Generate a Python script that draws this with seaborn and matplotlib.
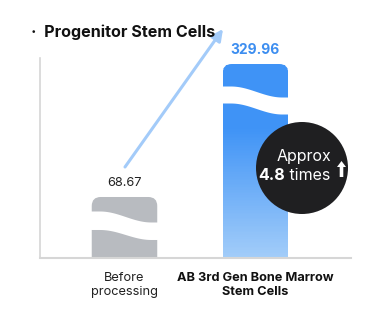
import numpy as np
import pandas as pd
import seaborn as sns
import matplotlib
matplotlib.use("Agg")
import matplotlib.pyplot as plt
from matplotlib.path import Path
from matplotlib.patches import PathPatch, Circle, FancyArrow, Polygon
from matplotlib.collections import PolyCollection
from matplotlib.transforms import IdentityTransform

# ---- data ----
categories = ["Before\nprocessing", "AB 3rd Gen Bone Marrow\nStem Cells"]
values = [68.67, 329.96]
value_labels = ["68.67", "329.96"]
title = "\u00b7  Progenitor Stem Cells"
badge_line1 = "Approx"
badge_num = "4.8"
badge_rest = " times"

sns.set_theme(style="white")
plt.rcParams['font.family'] = ['Inter', 'DejaVu Sans']

W, H = 391, 322
fig = plt.figure(figsize=(W / 100, H / 100), dpi=100)
fig.patch.set_facecolor("white")
ax = fig.add_axes([40 / W, (H - 258) / H, 311 / W, 200 / H])

df = pd.DataFrame({"cat": categories, "val": values})
sns.barplot(data=df, x="cat", y="val", ax=ax, width=0.5,
            color="#b8bbc0", saturation=1)

p = 0.737
ax.set_yscale("function", functions=(lambda v: np.sign(v) * np.abs(v) ** p,
                                     lambda u: np.sign(u) * np.abs(u) ** (1 / p)))
ax.set_ylim(0, 343.9)
ax.set_xlim(-0.645, 1.729)
ax.set_ylabel("")
ax.set_xlabel("")
ax.set_yticks([])
ax.set_xticks([0, 1])
ax.set_xticklabels(categories, fontsize=9.2, color="#222222", linespacing=1.25)
ax.get_xticklabels()[1].set_fontweight("bold")
ax.get_xticklabels()[1].set_color("#111111")
ax.tick_params(axis="x", length=0, pad=10)
for s in ["top", "right"]:
    ax.spines[s].set_visible(False)
ax.spines["left"].set_color("#d6d6d6")
ax.spines["left"].set_linewidth(1.2)
ax.spines["bottom"].set_color("#d6d6d6")
ax.spines["bottom"].set_linewidth(1.5)

bars = list(ax.patches)
ident = IdentityTransform()


def rounded_top(L, R, B, T, r):
    verts = [(L, B), (L, T - r), (L, T), (L + r, T), (R - r, T), (R, T), (R, T - r), (R, B), (L, B)]
    codes = [Path.MOVETO, Path.LINETO, Path.CURVE3, Path.CURVE3, Path.LINETO,
             Path.CURVE3, Path.CURVE3, Path.LINETO, Path.CLOSEPOLY]
    return Path(verts, codes)


def wave_poly(L, R, T, off_top, off_bot, A1, A2):
    t = np.linspace(0, 1, 80)
    shape = -np.cos(np.pi * np.clip(1.35 * t - 0.2, 0, 1))
    xs = L - 2 + (R - L + 4) * t
    upper = T - off_top - A1 * shape
    lower = T - off_bot - A2 * shape
    pts = np.vstack([np.column_stack([xs, upper]), np.column_stack([xs[::-1], lower[::-1]])])
    return pts


for i, bar in enumerate(bars):
    x0 = bar.get_x()
    w = bar.get_width()
    h = bar.get_height()
    (L, B) = ax.transData.transform((x0, 0))
    (R, T) = ax.transData.transform((x0 + w, h))
    bar.set_visible(False)
    path = rounded_top(L, R, B, T, 9)
    if i == 0:
        patch = PathPatch(path, facecolor="#b8bbc0", edgecolor="none", transform=ident, zorder=2)
        ax.add_patch(patch)
        patch.set_clip_on(False)
        wv = wave_poly(L, R, T, 20, 38, 5.5, 5)
    else:
        patch = PathPatch(path, facecolor="none", edgecolor="none", transform=ident, zorder=2)
        ax.add_patch(patch)
        patch.set_clip_on(False)
        n = 120
        ys = np.linspace(B, T, n + 1)
        c_top = np.array(matplotlib.colors.to_rgb("#3f93f6"))
        c_bot = np.array(matplotlib.colors.to_rgb("#a3cdf9"))
        polys, cols = [], []
        for k in range(n):
            y0, y1 = ys[k], ys[k + 1] + 0.5
            frac = (T - (y0 + y1) / 2) / (T - B)  # 0 top, 1 bottom
            m = np.clip((frac - 0.33) / 0.67, 0, 1)
            polys.append([(L, y0), (R, y0), (R, y1), (L, y1)])
            cols.append(c_top * (1 - m) + c_bot * m)
        pc = PolyCollection(polys, facecolors=cols, edgecolors="none", transform=ident, zorder=2)
        ax.add_collection(pc)
        pc.set_clip_path(patch)
        wv = wave_poly(L, R, T, 28, 45, 5.5, 5.5)
    wp = Polygon(wv, closed=True, facecolor="white", edgecolor="none", transform=ident, zorder=3)
    wp.set_clip_on(False)
    ax.add_patch(wp)

# value labels
ax.annotate(value_labels[0], (0, values[0]), xytext=(0, 14), textcoords="offset pixels",
            ha="center", va="center", fontsize=9.2, color="#222222")
ax.annotate(value_labels[1], (1, values[1]), xytext=(0, 14), textcoords="offset pixels",
            ha="center", va="center", fontsize=10, color="#3d8ef0", fontweight="bold")

# title
fig.text(31 / W, 1 - 32 / H, title, fontsize=11.6, fontweight="bold", color="#111111",
         ha="left", va="center")

# arrow
ax.annotate("", xy=(223, H - 29), xytext=(125, H - 167), xycoords="figure pixels",
            textcoords="figure pixels",
            arrowprops=dict(arrowstyle="-|>", color="#a3cbf9", lw=2.2, mutation_scale=17,
                            shrinkA=0, shrinkB=0), zorder=4)

# badge
circ = Circle((302, H - 168), 46, facecolor="#1f1f21", edgecolor="none", transform=ident, zorder=5)
circ.set_clip_on(False)
ax.add_patch(circ)
fig.text(331 / W, 1 - 156 / H, badge_line1, fontsize=11.5, color="white", ha="right",
         va="center", zorder=6)
t1 = fig.text(258 / W, 1 - 175 / H, badge_num, fontsize=11.5, color="white", ha="left",
              va="center", fontweight="bold", zorder=6)
fig.canvas.draw()
bb = t1.get_window_extent()
fig.text(bb.x1 / W, 1 - 175 / H, badge_rest, fontsize=11.5, color="white", ha="left",
         va="center", zorder=6)
arr = FancyArrow(341.5, H - 177, 0, 10, width=3.6, head_width=9, head_length=6,
                 length_includes_head=False, facecolor="white", edgecolor="none",
                 transform=ident, zorder=6)
arr.set_clip_on(False)
ax.add_patch(arr)

fig.savefig("out.png", dpi=100, facecolor="white")
